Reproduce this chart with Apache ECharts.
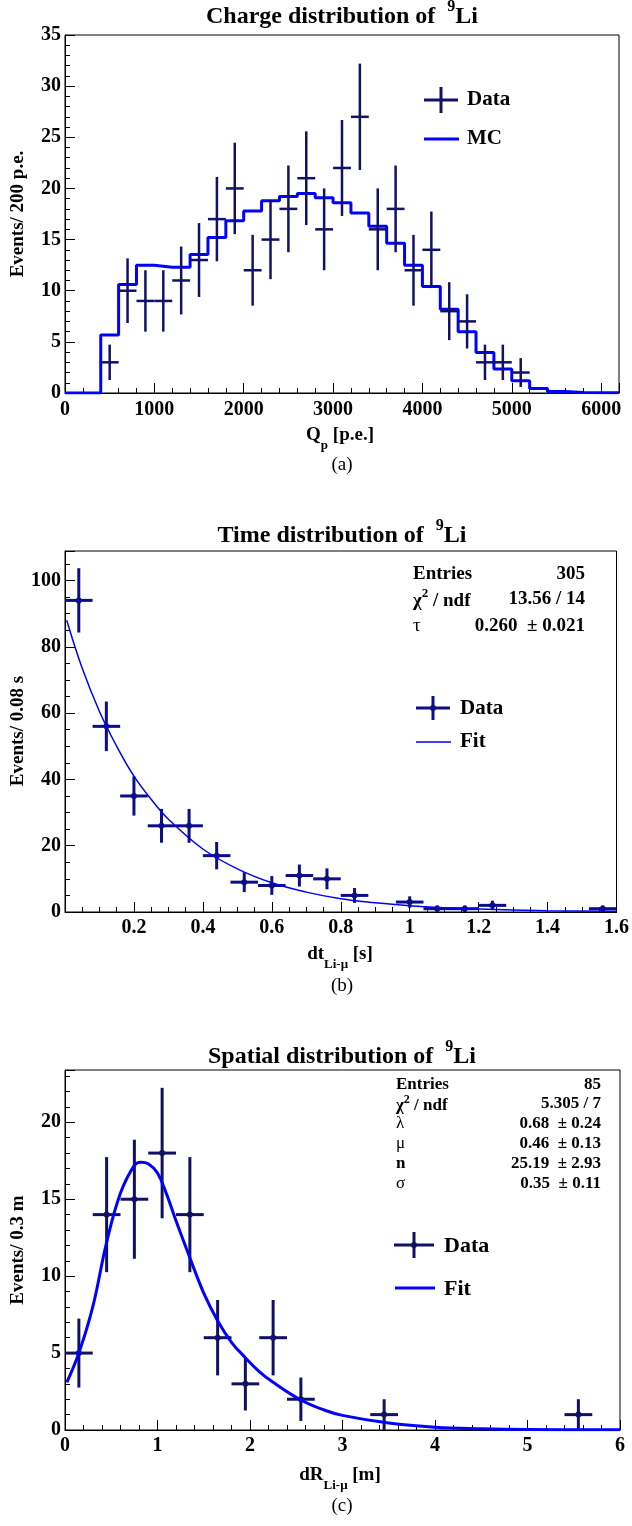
<!DOCTYPE html>
<html><head><meta charset="utf-8">
<script src="https://cdn.jsdelivr.net/npm/echarts@6/dist/echarts.min.js"></script>
<style>html,body{margin:0;padding:0;background:#fff}#c{width:632px;height:1526px}</style>
</head><body><div id="c"></div>
<script>
// ---------- Panel (a): charge distribution ----------
const chargeCenters = [500,700,900,1100,1300,1500,1700,1900,2100,2300,2500,2700,2900,3100,3300,3500,3700,3900,4100,4300,4500,4700,4900,5100];
const chargeCounts  = [3,10,9,9,11,13,17,20,12,15,18,21,16,22,27,16,18,12,14,8,7,3,3,2];
const chargeErrors  = [1.73,3.16,3,3,3.32,3.61,4.12,4.47,3.46,3.87,4.24,4.58,4,4.69,5.2,4,4.24,3.46,3.74,2.83,2.65,1.73,1.73,1.41];
const chargeHalfBin = 100;
const mcBinLeft = [0,200,400,600,800,1000,1200,1400,1600,1800,2000,2200,2400,2600,2800,3000,3200,3400,3600,3800,4000,4200,4400,4600,4800,5000,5200,5400,5600,5800,6000,6200];
const mcValues  = [0,0,5.67,10.6,12.48,12.3,12.3,13.55,15.2,16.85,17.8,18.8,19.2,19.5,19.1,18.6,17.6,16.3,14.65,12.5,10.4,8.2,6.0,3.95,2.35,1.2,0.45,0.15,0.05,0.03,0.02,0.02];

// ---------- Panel (b): time distribution ----------
const timeCenters = [0.04,0.12,0.2,0.28,0.36,0.44,0.52,0.6,0.68,0.76,0.84,1.0,1.08,1.16,1.24,1.56];
const timeCounts  = [94,56,35,26,26,17,9,8,11,10,5,3,1,1,2,1];
const timeErrors  = [9.7,7.48,5.92,5.1,5.1,4.12,3,2.83,3.32,3.16,2.24,1.73,1,1,1.41,1];
const timeHalfBin = 0.04;
const timeFitX = [0.005,0.05,0.1,0.15,0.2,0.25,0.3,0.4,0.5,0.6,0.7,0.8,0.9,1.0,1.1,1.2,1.4,1.6];
const timeFitY = [88,73.5,60.5,50,41,34,28,19,13,8.8,6,4,2.8,1.9,1.3,0.9,0.4,0.2];

// ---------- Panel (c): spatial distribution ----------
const spaceCenters = [0.15,0.45,0.75,1.05,1.35,1.65,1.95,2.25,2.55,3.45,5.55];
const spaceCounts  = [5,14,15,18,14,6,3,6,2,1,1];
const spaceErrors  = [2.24,3.74,3.87,4.24,3.74,2.45,1.73,2.45,1.41,1,1];
const spaceHalfBin = 0.15;
const spaceFitX = [0.02,0.15,0.3,0.45,0.6,0.75,0.82,0.9,1.0,1.1,1.2,1.35,1.5,1.65,1.8,1.95,2.1,2.25,2.55,2.8,3.0,3.5,4.0,4.5,5.0,6.0];
const spaceFitY = [3.1,5.0,8.0,12.2,15.4,17.2,17.4,17.3,16.7,15.3,13.6,11.2,8.9,7.1,5.7,4.7,3.8,3.1,1.95,1.3,0.95,0.45,0.18,0.08,0.03,0.01];

// ---------- stats text ----------
const timeStats = [["Entries","305"],["χ2 / ndf","13.56 / 14"],["τ","0.260  ± 0.021"]];
const spaceStats = [["Entries","85"],["χ2 / ndf","5.305 / 7"],["λ","0.68  ± 0.24"],["μ","0.46  ± 0.13"],["n","25.19  ± 2.93"],["σ","0.35  ± 0.11"]];

const SERIF = "'Liberation Serif','DejaVu Serif',serif";
const C_A = '#111166', C_B = '#0d0d88', C_C = '#111163', FIT = '#0000ff';
const TICK_FS = 20;

function errRender(color, lw, r) {
  return function (params, api) {
    const x = api.value(0), y = api.value(1), hx = api.value(2), ey = api.value(3);
    const l = api.coord([x - hx, y]), rr = api.coord([x + hx, y]);
    const b = api.coord([x, y - ey]), t = api.coord([x, y + ey]);
    const c = api.coord([x, y]);
    const ch = [
      {type:'line', shape:{x1:l[0],y1:l[1],x2:rr[0],y2:rr[1]}, style:{stroke:color,lineWidth:lw}},
      {type:'line', shape:{x1:b[0],y1:b[1],x2:t[0],y2:t[1]}, style:{stroke:color,lineWidth:lw}}
    ];
    if (r) ch.push({type:'circle', shape:{cx:c[0],cy:c[1],r:r}, style:{fill:color}});
    return {type:'group', children: ch};
  };
}
function errData(cs, ys, hw, es) { return cs.map((c,i)=>[c, ys[i], hw, es[i]]); }
function pairs(xs, ys) { return xs.map((x,i)=>[x, ys[i]]); }
const fmt = v => String(Math.round(v*1000)/1000);

const axisLabelStyle = {color:'#000', fontFamily:SERIF, fontWeight:'bold', fontSize:TICK_FS, formatter:fmt};
function xAx(gi, min, max, interval, minorN, margin, showMin, showMax) {
  return {type:'value', gridIndex:gi, min, max, interval,
    axisLine:{show:true, lineStyle:{color:'#000', width:1}},
    axisTick:{show:true, inside:true, length:10, lineStyle:{color:'#000'}},
    minorTick:{show:true, splitNumber:minorN, length:5, lineStyle:{color:'#000'}},
    splitLine:{show:false}, minorSplitLine:{show:false},
    axisLabel:Object.assign({margin, showMinLabel:showMin, showMaxLabel:showMax}, axisLabelStyle)};
}
function yAx(gi, min, max, interval, minorN, showMax) {
  return {type:'value', gridIndex:gi, min, max, interval,
    axisLine:{show:true, lineStyle:{color:'#000', width:1}},
    axisTick:{show:true, inside:true, length:10, lineStyle:{color:'#000'}},
    minorTick:{show:true, splitNumber:minorN, length:5, lineStyle:{color:'#000'}},
    splitLine:{show:false}, minorSplitLine:{show:false},
    axisLabel:Object.assign({margin:4, showMaxLabel:showMax}, axisLabelStyle)};
}

function txt(x, y, text, size, opts) {
  opts = opts || {};
  return {type:'text', x, y, rotation: opts.rot || 0, silent:true,
    style:{text, fill:'#000', font:(opts.weight||'bold')+' '+size+'px '+SERIF,
      textAlign: opts.align||'left', textVerticalAlign:'middle'}};
}
function richTxt(x, y, text, rich, opts) {
  opts = opts || {};
  return {type:'text', x, y, rotation: opts.rot || 0, silent:true,
    style:{text, rich, fill:'#000', textAlign: opts.align||'center', textVerticalAlign:'middle'}};
}
function titleTxt(x, y, main) {
  return richTxt(x, y, '{t|'+main+'  }{s|9}{t|Li}', {
    t:{fontFamily:SERIF, fontWeight:'bold', fontSize:24, lineHeight:30, verticalAlign:'bottom', fill:'#000'},
    s:{fontFamily:SERIF, fontWeight:'bold', fontSize:16, lineHeight:30, verticalAlign:'top', fill:'#000'}
  });
}
function subTxt(x, y, a, sub, b, size) {
  return richTxt(x, y, '{t|'+a+'}{s|'+sub+'}{t|'+b+'}', {
    t:{fontFamily:SERIF, fontWeight:'bold', fontSize:size, lineHeight:size+7, verticalAlign:'top', fill:'#000'},
    s:{fontFamily:SERIF, fontWeight:'bold', fontSize:Math.round(size*0.7), lineHeight:size+7, verticalAlign:'bottom', fill:'#000'}
  });
}
function chiLabel(x, y, size) {
  return richTxt(x, y, '{t|χ}{s|2}{t| / ndf}', {
    t:{fontFamily:SERIF, fontWeight:'bold', fontSize:size, lineHeight:size+4, verticalAlign:'bottom', fill:'#000'},
    s:{fontFamily:SERIF, fontWeight:'bold', fontSize:Math.round(size*0.68), lineHeight:size+4, verticalAlign:'top', fill:'#000'}
  }, {align:'left'});
}
function statsBlock(rows, xl, xr, ys, size) {
  const out = [];
  rows.forEach((r, i) => {
    const y = ys[i];
    if (r[0].indexOf('χ2') === 0) out.push(chiLabel(xl, y, size));
    else out.push(txt(xl, y, r[0], size, {weight: r[0]==='Entries'||r[0]==='n' ? 'bold' : 'normal'}));
    out.push(txt(xr, y, r[1], size, {align:'right'}));
  });
  return out;
}
function crossIcon(cx, cy, hw, hh, color, lw, r) {
  const ch = [
    {type:'line', shape:{x1:cx-hw,y1:cy,x2:cx+hw,y2:cy}, style:{stroke:color,lineWidth:lw}},
    {type:'line', shape:{x1:cx,y1:cy-hh,x2:cx,y2:cy+hh}, style:{stroke:color,lineWidth:lw}}
  ];
  if (r) ch.push({type:'circle', shape:{cx,cy,r}, style:{fill:color}});
  return {type:'group', silent:true, children:ch};
}
function lineIcon(x1, x2, y, color, lw) {
  return {type:'line', silent:true, shape:{x1,y1:y,x2,y2:y}, style:{stroke:color,lineWidth:lw}};
}

const chart = echarts.init(document.getElementById('c'), null, {renderer:'canvas'});
const gridBox = {show:true, borderColor:'#000', borderWidth:1, backgroundColor:'transparent', containLabel:false};

const graphics = [
  titleTxt(342, 14, 'Charge distribution of'),
  titleTxt(342, 533, 'Time distribution of'),
  titleTxt(342, 1054, 'Spatial distribution of'),
  txt(18, 214, 'Events/ 200 p.e.', 19, {rot:Math.PI/2, align:'center'}),
  txt(18, 731, 'Events/ 0.08 s', 19, {rot:Math.PI/2, align:'center'}),
  txt(18, 1250, 'Events/ 0.3 m', 19, {rot:Math.PI/2, align:'center'}),
  subTxt(340, 439, 'Q', 'p', ' [p.e.]', 19),
  subTxt(340, 958, 'dt', 'Li-μ', ' [s]', 19),
  subTxt(340, 1479, 'dR', 'Li-μ', ' [m]', 19),
  txt(342, 465, '(a)', 19, {weight:'normal', align:'center'}),
  txt(342, 986, '(b)', 19, {weight:'normal', align:'center'}),
  txt(342, 1506, '(c)', 19, {weight:'normal', align:'center'}),
  // legends
  crossIcon(441, 100, 17, 13, C_A, 3, 0), txt(467, 100, 'Data', 21),
  lineIcon(424, 459, 139, FIT, 3), txt(467, 139, 'MC', 21),
  crossIcon(433, 708, 17, 12, C_B, 3, 3), txt(460, 709, 'Data', 21),
  lineIcon(416, 451, 742, FIT, 1.5), txt(460, 742, 'Fit', 21),
  crossIcon(414, 1245, 20, 13, C_C, 3, 3), txt(444, 1246, 'Data', 22),
  lineIcon(395, 435, 1288, FIT, 3), txt(444, 1289, 'Fit', 22)
].concat(statsBlock(timeStats, 413, 585, [574, 599, 626], 19))
 .concat(statsBlock(spaceStats, 396, 601, [1085, 1104, 1124, 1144, 1164, 1184], 17));

chart.setOption({
  animation:false,
  backgroundColor:'#fff',
  grid:[
    Object.assign({left:65, top:35, width:554, height:358}, gridBox),
    Object.assign({left:65, top:551, width:555, height:361}, gridBox),
    Object.assign({left:65, top:1070, width:555, height:360}, gridBox)
  ],
  xAxis:[
    xAx(0, 0, 6200, 1000, 5, 7, true, false),
    xAx(1, 0, 1.6, 0.2, 4, 6, false, true),
    xAx(2, 0, 6, 1, 5, 6, true, true)
  ],
  yAxis:[
    yAx(0, 0, 35, 5, 5, true),
    yAx(1, 0, 108.9, 20, 4, false),
    yAx(2, 0, 23.4, 5, 5, false)
  ],
  series:[
    {type:'line', xAxisIndex:0, yAxisIndex:0, step:'end', symbol:'none', data:pairs(mcBinLeft, mcValues),
      lineStyle:{color:FIT, width:3}, z:2},
    {type:'custom', xAxisIndex:0, yAxisIndex:0, renderItem:errRender(C_A, 2.5, 0),
      data:errData(chargeCenters, chargeCounts, chargeHalfBin, chargeErrors), encode:{x:0,y:1}, clip:true, z:3},
    {type:'custom', xAxisIndex:1, yAxisIndex:1, renderItem:errRender(C_B, 3, 3),
      data:errData(timeCenters, timeCounts, timeHalfBin, timeErrors), encode:{x:0,y:1}, clip:true, z:3},
    {type:'line', xAxisIndex:1, yAxisIndex:1, smooth:0.4, symbol:'none', data:pairs(timeFitX, timeFitY),
      lineStyle:{color:FIT, width:1.5}, z:4},
    {type:'custom', xAxisIndex:2, yAxisIndex:2, renderItem:errRender(C_C, 3, 3),
      data:errData(spaceCenters, spaceCounts, spaceHalfBin, spaceErrors), encode:{x:0,y:1}, clip:true, z:3},
    {type:'line', xAxisIndex:2, yAxisIndex:2, smooth:0.4, symbol:'none', data:pairs(spaceFitX, spaceFitY),
      lineStyle:{color:FIT, width:3}, z:4}
  ],
  graphic: graphics
});
</script></body></html>
